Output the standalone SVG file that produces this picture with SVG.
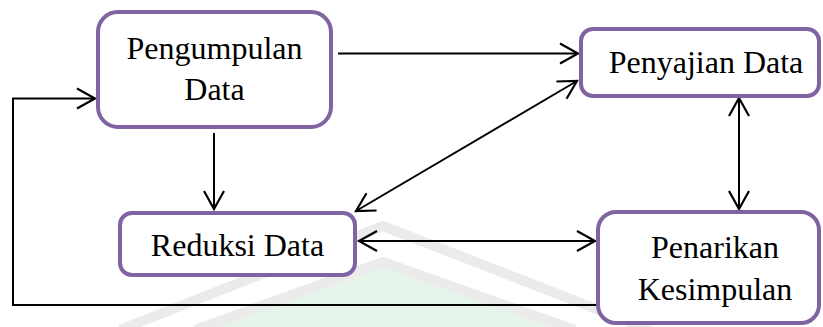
<svg xmlns="http://www.w3.org/2000/svg" width="823" height="327" viewBox="0 0 823 327">
<style>
.box{fill:#ffffff;stroke:#8064A2;stroke-width:4}
.lbl{font-family:'Liberation Serif','Times New Roman',serif;font-size:32px;fill:#000000;text-anchor:middle}
.con{fill:none;stroke:#000000;stroke-width:2}
.wm{fill:none;stroke:#ebebeb;stroke-width:10;stroke-linejoin:round}
</style>
<defs>
<marker id="arr" markerUnits="userSpaceOnUse" markerWidth="24" markerHeight="26" viewBox="-21 -13 24 26" refX="0" refY="0" orient="auto-start-reverse">
<path d="M-18,-10 L0,0 L-18,10" fill="none" stroke="#000000" stroke-width="2.2"/>
</marker>
</defs>
<rect width="823" height="327" fill="#ffffff"/>
<g id="watermark">
<polygon points="210,327 382,266 560,327" fill="#e6f4ea"/>
<polyline class="wm" points="120,330 383,226 650,330"/>
<polyline class="wm" points="195,330 383,262 575,330"/>
</g>
<g id="connectors">
<path class="con" d="M338,53.5 L578,53.5" marker-end="url(#arr)"/>
<path class="con" d="M214,133 L214,209" marker-end="url(#arr)"/>
<path class="con" d="M356,211 L577,81" marker-start="url(#arr)" marker-end="url(#arr)"/>
<path class="con" d="M739,98 L739,209" marker-start="url(#arr)" marker-end="url(#arr)"/>
<path class="con" d="M359,241 L595,241" marker-start="url(#arr)" marker-end="url(#arr)"/>
<path class="con" d="M597,305 L13,305 L13,98.5 L95,98.5" marker-end="url(#arr)"/>
</g>
<g id="pengumpulan">
<rect class="box" x="98" y="12" width="233" height="115" rx="20"/>
<text class="lbl" x="214.5" y="59">Pengumpulan</text>
<text class="lbl" x="214.5" y="100">Data</text>
</g>
<g id="penyajian">
<rect class="box" x="581" y="29" width="238" height="67" rx="12"/>
<text class="lbl" x="706" y="73">Penyajian Data</text>
</g>
<g id="reduksi">
<rect class="box" x="120" y="213" width="235" height="62" rx="12"/>
<text class="lbl" x="237.5" y="256">Reduksi Data</text>
</g>
<g id="penarikan">
<rect class="box" x="598" y="212" width="221" height="111" rx="18"/>
<text class="lbl" x="715" y="258">Penarikan</text>
<text class="lbl" x="715" y="300">Kesimpulan</text>
</g>
</svg>
